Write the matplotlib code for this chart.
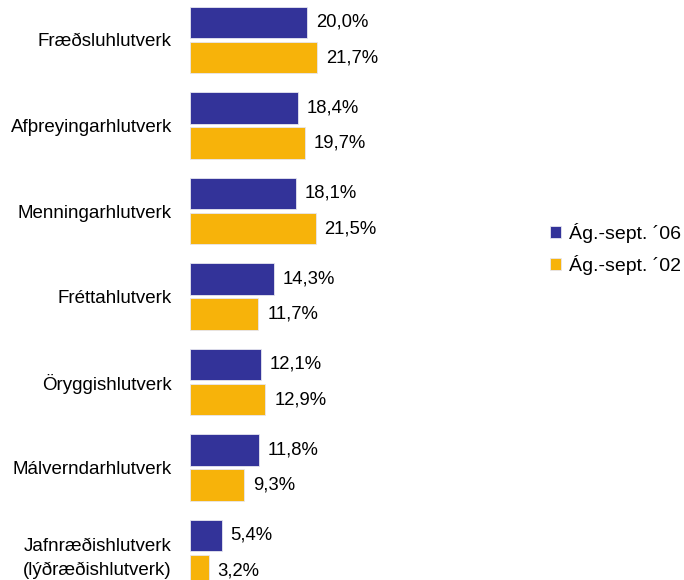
import matplotlib.pyplot as plt
import numpy as np

plt.rcParams['font.family'] = ['Liberation Sans', 'DejaVu Sans']

categories = ["Fræðsluhlutverk", "Afþreyingarhlutverk", "Menningarhlutverk",
              "Fréttahlutverk", "Öryggishlutverk", "Málverndarhlutverk",
              "Jafnræðishlutverk\n(lýðræðishlutverk)"]
ag_sept_06 = [20.0, 18.4, 18.1, 14.3, 12.1, 11.8, 5.4]
ag_sept_02 = [21.7, 19.7, 21.5, 11.7, 12.9, 9.3, 3.2]
series_names = ["Ág.-sept. ´06", "Ág.-sept. ´02"]
colors = ["#333399", "#F7B30A"]


def fmt(v):
    return ("%.1f%%" % v).replace(".", ",")


fig = plt.figure(figsize=(6.84, 5.8), dpi=100)
ax = fig.add_axes([190 / 684, 0, 320 / 684, 1])

y = np.arange(len(categories))
off = 0.205
h = 0.37
for vals, dy, col, name in [(ag_sept_06, -off, colors[0], series_names[0]),
                            (ag_sept_02, off, colors[1], series_names[1])]:
    ax.barh(y + dy, vals, height=h, color=col, edgecolor="#e6e6f0",
            linewidth=0.6, label=name)
    for yi, v in zip(y + dy, vals):
        ax.text(v + 1.5, yi, fmt(v), va="center", ha="left", fontsize=13.3)

ax.set_xlim(0, 320 / 5.85)
ax.set_ylim(6 + 27 / 85.5, -40 / 85.5)
ax.set_yticks(y)
ax.set_yticklabels(categories, fontsize=13.5, linespacing=1.5)
ax.tick_params(axis="y", length=0, pad=13)
ax.set_xticks([])
for s in ax.spines.values():
    s.set_visible(False)

ax.legend(loc="center left", bbox_to_anchor=(550 / 684, 1 - 249 / 580),
          bbox_transform=fig.transFigure, frameon=False, fontsize=14,
          handlelength=0.55, handleheight=0.55, handletextpad=0.45,
          labelspacing=0.6, borderaxespad=0, borderpad=0)

fig.savefig("out.png", dpi=100)
